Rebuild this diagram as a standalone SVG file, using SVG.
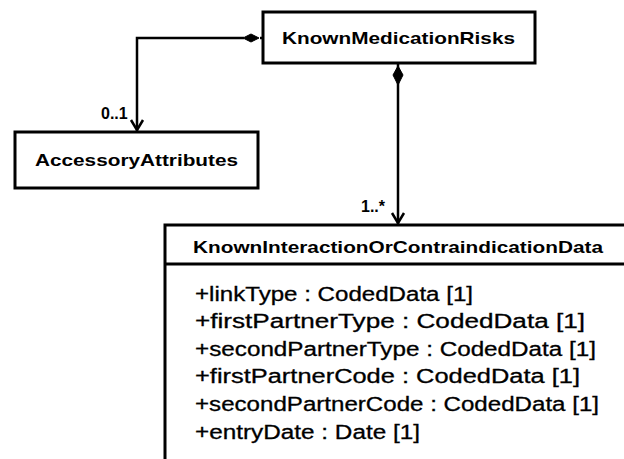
<svg xmlns="http://www.w3.org/2000/svg" width="624" height="459" viewBox="0 0 624 459">
<style>
.box{fill:#fff;stroke:#000;stroke-width:3}
.ttl{font-family:"Liberation Sans",Arial,sans-serif;font-weight:bold;font-size:17px;fill:#000}
.att{font-family:"Liberation Sans",Arial,sans-serif;font-size:20px;fill:#000;stroke:#000;stroke-width:0.3}
.lbl{font-family:"Liberation Sans",Arial,sans-serif;font-weight:bold;font-size:16px;fill:#000}
.con{fill:none;stroke:#000;stroke-width:2.5}
.dia{fill:#000;stroke:#000;stroke-width:1}
</style>
<rect width="624" height="459" fill="#fff"/>
<g id="KnownMedicationRisks">
<rect class="box" x="263" y="12" width="272" height="51"/>
<text class="ttl" x="282" y="44" textLength="233" lengthAdjust="spacingAndGlyphs">KnownMedicationRisks</text>
</g>
<g id="AccessoryAttributes">
<rect class="box" x="15" y="132" width="243" height="56"/>
<text class="ttl" x="35" y="166" textLength="203" lengthAdjust="spacingAndGlyphs">AccessoryAttributes</text>
</g>
<g id="KnownInteractionOrContraindicationData">
<rect class="box" x="165" y="225" width="470" height="250"/>
<line x1="165" y1="264" x2="635" y2="264" stroke="#000" stroke-width="3"/>
<text class="ttl" x="193" y="253" textLength="410" lengthAdjust="spacingAndGlyphs">KnownInteractionOrContraindicationData</text>
<text class="att" x="195" y="301" textLength="278" lengthAdjust="spacingAndGlyphs">+linkType : CodedData [1]</text>
<text class="att" x="195" y="328" textLength="390" lengthAdjust="spacingAndGlyphs">+firstPartnerType : CodedData [1]</text>
<text class="att" x="195" y="356" textLength="401" lengthAdjust="spacingAndGlyphs">+secondPartnerType : CodedData [1]</text>
<text class="att" x="195" y="383" textLength="385" lengthAdjust="spacingAndGlyphs">+firstPartnerCode : CodedData [1]</text>
<text class="att" x="195" y="411" textLength="404" lengthAdjust="spacingAndGlyphs">+secondPartnerCode : CodedData [1]</text>
<text class="att" x="195" y="439" textLength="225" lengthAdjust="spacingAndGlyphs">+entryDate : Date [1]</text>
</g>
<g id="connectors">
<polyline class="con" points="244,38 137,38 137,131"/>
<line class="con" x1="260" y1="38" x2="263" y2="38"/>
<polygon class="dia" points="243,38 251,34 259,38 251,42"/>
<polyline class="con" points="131,120 137,130 143,120"/>
<text class="lbl" x="101" y="119">0..1</text>
<line class="con" x1="398" y1="63" x2="398" y2="224"/>
<polygon class="dia" points="398,66 403,75 398,85 393,75"/>
<polyline class="con" points="392,213 398,223 404,213"/>
<text class="lbl" x="361" y="212">1..*</text>
</g>
</svg>
